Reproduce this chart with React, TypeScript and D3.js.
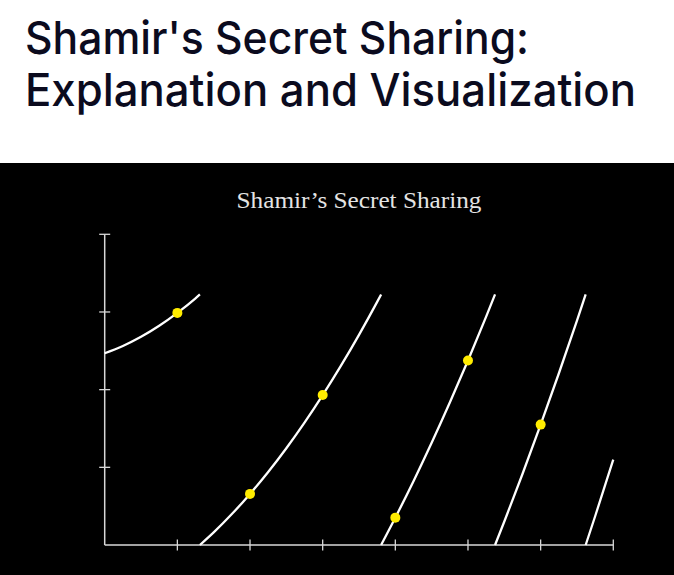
import * as d3 from 'd3';
import React, { useEffect, useRef } from 'react';

// f(x) = 1234 + 166x + 94x^2 mod 1613, shares at x = 1..6
const shareX = [1, 2, 3, 4, 5, 6];
const shareY = [1494, 329, 965, 176, 1188, 775];

// curve pieces (x, f(x) mod p), one array per wrap
const seg1 = [[0, 1234], [0.25, 1281], [0.5, 1340], [0.75, 1411], [1, 1494], [1.25, 1588], [1.3105, 1613]];
const seg2 = [[1.3105, 0], [1.5, 81], [1.75, 199], [2, 329], [2.25, 470], [2.5, 623], [2.75, 788], [3, 965], [3.25, 1153], [3.5, 1353], [3.75, 1565], [3.8044, 1613]];
const seg3 = [[3.8044, 0], [4, 176], [4.25, 411], [4.5, 658], [4.75, 917], [5, 1188], [5.25, 1470], [5.3725, 1613]];
const seg4 = [[5.3725, 0], [5.5, 151], [5.75, 457], [6, 775], [6.25, 1104], [6.5, 1445], [6.6197, 1613]];
const seg5 = [[6.6197, 0], [6.75, 185], [7, 550]];
const segments = [seg1, seg2, seg3, seg4, seg5];

const xTicks = [1, 2, 3, 4, 5, 6, 7];
const yTicks = [500, 1000, 1500, 2000];

const headingLines = ["Shamir's Secret Sharing:", 'Explanation and Visualization'];
const chartTitle = 'Shamir\u2019s Secret Sharing';

export default () => {
    const ref = useRef<any>();

    useEffect(() => {
        const width = 674;
        const height = 575;
        const svg = d3.select<any, any>(ref.current)
            .attr('width', width)
            .attr('height', height);
        svg.selectAll('*').remove();

        svg.append('rect').attr('width', width).attr('height', height).attr('fill', '#fff');

        //Heading
        const headWidths = [504, 611];
        svg.selectAll('.head').data(headingLines).join('text')
            .attr('class', 'head')
            .attr('x', 25)
            .attr('y', (d, i) => 54 + i * 52)
            .attr('font-family', 'Inter, "Noto Sans", sans-serif')
            .attr('font-size', 45)
            .attr('font-weight', 500)
            .attr('fill', '#0b0b1e')
            .attr('textLength', (d, i) => headWidths[i])
            .attr('lengthAdjust', 'spacingAndGlyphs')
            .text(d => d);

        //Dark panel
        svg.append('rect').attr('x', 0).attr('y', 163).attr('width', width).attr('height', height - 163).attr('fill', '#000');

        const margin = { left: 104.7, right: 674 - 613.3, top: 234.3, bottom: 575 - 545 };
        const x = d3.scaleLinear().domain([0, 7]).range([margin.left, width - margin.right]);
        const y = d3.scaleLinear().domain([0, 2000]).range([height - margin.bottom, margin.top]);

        svg.append('text')
            .attr('x', (x(0) + x(7)) / 2)
            .attr('y', 208)
            .attr('text-anchor', 'middle')
            .attr('font-family', '"Liberation Serif", serif')
            .attr('font-size', 23)
            .attr('fill', '#e4e4e4')
            .attr('textLength', 245)
            .attr('lengthAdjust', 'spacingAndGlyphs')
            .text(chartTitle);

        const axisColor = '#d8d8d8';
        const g = svg.append('g');
        g.append('line').attr('x1', x(0)).attr('x2', x(7)).attr('y1', y(0)).attr('y2', y(0))
            .attr('stroke', axisColor).attr('stroke-width', 1.5);
        g.append('line').attr('x1', x(0)).attr('x2', x(0)).attr('y1', y(0)).attr('y2', y(2000))
            .attr('stroke', axisColor).attr('stroke-width', 1.5);
        g.selectAll('.xt').data(xTicks).join('line')
            .attr('class', 'xt')
            .attr('x1', d => x(d)).attr('x2', d => x(d))
            .attr('y1', y(0) - 5.5).attr('y2', y(0) + 5.5)
            .attr('stroke', axisColor).attr('stroke-width', 1.3);
        g.selectAll('.yt').data(yTicks).join('line')
            .attr('class', 'yt')
            .attr('y1', d => y(d)).attr('y2', d => y(d))
            .attr('x1', x(0) - 5.5).attr('x2', x(0) + 5.5)
            .attr('stroke', axisColor).attr('stroke-width', 1.3);

        //Curve
        const line = d3.line<number[]>()
            .x(d => x(d[0]))
            .y(d => y(d[1]))
            .curve(d3.curveMonotoneX);
        svg.selectAll('.seg').data(segments).join('path')
            .attr('class', 'seg')
            .attr('d', d => line(d as any))
            .attr('fill', 'none')
            .attr('stroke', '#fff')
            .attr('stroke-width', 2.3);

        //Shares
        svg.selectAll('.share').data(shareX).join('circle')
            .attr('class', 'share')
            .attr('cx', d => x(d))
            .attr('cy', (d, i) => y(shareY[i]))
            .attr('r', 5)
            .attr('fill', '#ffec00');
    });

    return (
        <svg ref={ref} style={{ position: 'absolute', left: 0, top: 0 }}></svg>
    );
}
